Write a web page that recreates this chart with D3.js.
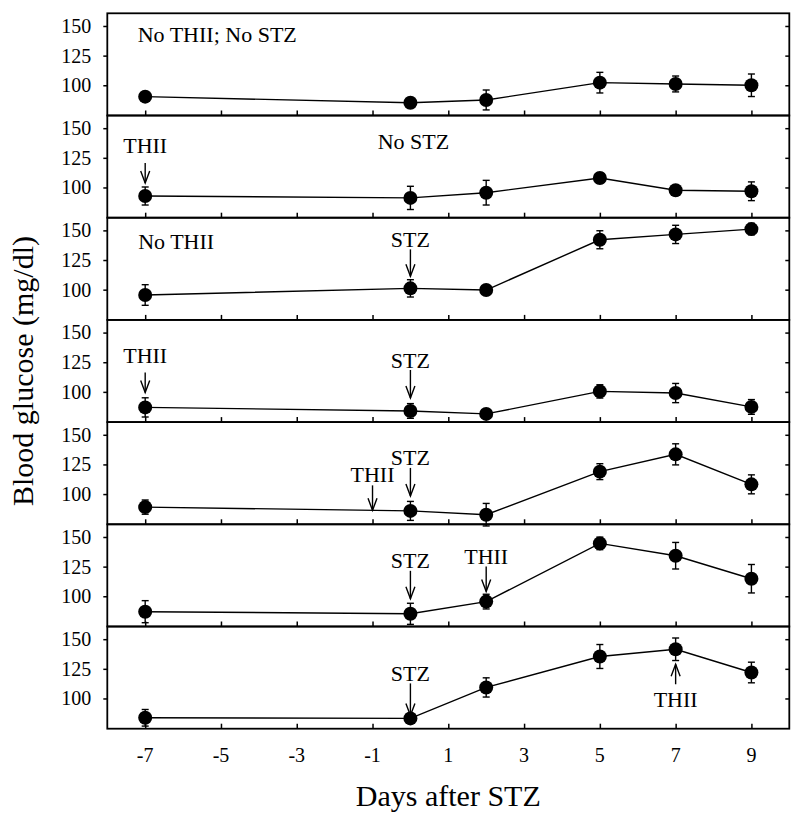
<!DOCTYPE html>
<html>
<head>
<meta charset="utf-8">
<script src="https://cdn.jsdelivr.net/npm/d3@7"></script>
<style>
  html, body { margin: 0; padding: 0; background: #fff; }
  svg { display: block; }
  text { font-family: "Liberation Serif", "Times New Roman", serif; fill: #000; }
</style>
</head>
<body>
<svg id="chart" width="800" height="822"></svg>
<script>
// ---------------- data ----------------
const days = [-7, 0, 2, 5, 7, 9];
const xTickValues = [-7, -5, -3, -1, 1, 3, 5, 7, 9];
const yTickValues = [100, 125, 150];

const means = [
  [90.4, 85.3, 87.6, 102.2, 101.1, 100.0],
  [92.8, 91.2, 95.6, 108.0, 97.6, 96.8],
  [95.5, 101.1, 99.7, 142.1, 146.6, 151.1],
  [86.9, 83.9, 81.4, 100.4, 99.0, 87.3],
  [89.0, 85.8, 82.6, 118.9, 133.5, 108.2],
  [87.0, 85.2, 95.5, 144.6, 134.2, 114.8],
  [83.7, 83.2, 109.3, 135.4, 141.5, 121.9]
];
const errors = [
  [4.0, 2.0, 8.4, 8.7, 6.7, 9.5],
  [7.6, 9.8, 10.4, 4.5, 2.0, 7.9],
  [8.7, 7.3, 2.0, 7.6, 7.7, 4.8],
  [8.1, 6.2, 2.0, 5.6, 8.1, 6.2],
  [6.0, 8.0, 9.5, 6.7, 8.9, 8.0],
  [9.3, 8.9, 6.2, 5.3, 11.2, 12.0],
  [7.0, 2.0, 8.1, 10.1, 9.5, 8.7]
];

const panelLabels = [
  { panel: 0, text: "No THII; No STZ" },
  { panel: 1, text: "No STZ" },
  { panel: 2, text: "No THII" }
];

const annotations = [
  { panel: 1, day: -7, text: "THII", dir: "down" },
  { panel: 2, day: 0,  text: "STZ",  dir: "down" },
  { panel: 3, day: -7, text: "THII", dir: "down" },
  { panel: 3, day: 0,  text: "STZ",  dir: "down" },
  { panel: 4, day: -1, text: "THII", dir: "down" },
  { panel: 4, day: 0,  text: "STZ",  dir: "down" },
  { panel: 5, day: 0,  text: "STZ",  dir: "down" },
  { panel: 5, day: 2,  text: "THII", dir: "down" },
  { panel: 6, day: 0,  text: "STZ",  dir: "down" },
  { panel: 6, day: 7,  text: "THII", dir: "up" }
];

// ---------------- layout (pixels) ----------------
const labelLayout = [
  { anchor: "start",  dx: -7.5, dy: 29 },
  { anchor: "middle", dx: 3,    dy: 33 },
  { anchor: "start",  dx: -7,   dy: 31 }
];
const annoLayout = [
  { gap: 13, len: 20, tgap: 10 },
  { gap: 12, len: 27, tgap: 2 },
  { gap: 15, len: 20, tgap: 9 },
  { gap: 13, len: 28, tgap: 2 },
  { gap: 0,  len: 25, tgap: 3 },
  { gap: 15, len: 28, tgap: 3 },
  { gap: 15, len: 28, tgap: 3 },
  { gap: 10, len: 25, tgap: 3 },
  { gap: 3,  len: 32, tgap: 2 },
  { gap: 15, len: 20, tgap: 23 }
];

const plotLeft = 107.3, plotRight = 789.3, plotTop = 13.3, plotBottom = 728.7;
const nPanels = means.length;
const ph = (plotBottom - plotTop) / nPanels;

const svg = d3.select("#chart");

const x = d3.scaleLinear().domain([-8, 10]).range([plotLeft, plotRight]);
const y = d3.scaleLinear().domain([74.5, 160.7]).range([ph, 0]);

const lineGen = d3.line().x(d => x(d[0])).y(d => y(d[1]));

const fontTick = 20, fontAnno = 22, fontTitle = 30;

for (let p = 0; p < nPanels; p++) {
  const g = svg.append("g").attr("transform", `translate(0,${plotTop + p * ph})`);

  // left axis (outward ticks)
  const ya = g.append("g").attr("transform", `translate(${plotLeft},0)`)
    .call(d3.axisLeft(y).tickValues(yTickValues).tickSize(4).tickPadding(12));
  ya.select(".domain").remove();
  ya.selectAll("line").attr("stroke", "#000").attr("stroke-width", 1.5);
  ya.selectAll("text").attr("font-size", fontTick).attr("font-family", "Liberation Serif").attr("fill", "#000");

  // right axis (inward ticks)
  const yr = g.append("g").attr("transform", `translate(${plotRight},0)`)
    .call(d3.axisLeft(y).tickValues(yTickValues).tickSize(4).tickFormat(""));
  yr.select(".domain").remove();
  yr.selectAll("line").attr("stroke", "#000").attr("stroke-width", 1.5);

  // bottom ticks (inward)
  const xa = g.append("g").attr("transform", `translate(0,${ph})`)
    .call(d3.axisTop(x).tickValues(xTickValues).tickSize(5).tickFormat(""));
  xa.select(".domain").remove();
  xa.selectAll("line").attr("stroke", "#000").attr("stroke-width", 1.5);

  // frame
  g.append("rect").attr("x", plotLeft).attr("y", 0)
    .attr("width", plotRight - plotLeft).attr("height", ph)
    .attr("fill", "none").attr("stroke", "#000").attr("stroke-width", 1.8);

  const pts = days.map((d, i) => [d, means[p][i], errors[p][i]]);

  // connecting line
  g.append("path").datum(pts).attr("d", lineGen)
    .attr("fill", "none").attr("stroke", "#000").attr("stroke-width", 1.4);

  // error bars
  const eb = g.append("g").attr("stroke", "#000").attr("stroke-width", 1.4);
  pts.forEach(d => {
    const cx = x(d[0]), y1 = y(d[1] + d[2]), y2 = y(d[1] - d[2]);
    eb.append("line").attr("x1", cx).attr("x2", cx).attr("y1", y1).attr("y2", y2);
    eb.append("line").attr("x1", cx - 3.5).attr("x2", cx + 3.5).attr("y1", y1).attr("y2", y1);
    eb.append("line").attr("x1", cx - 3.5).attr("x2", cx + 3.5).attr("y1", y2).attr("y2", y2);
  });

  // markers
  g.selectAll("circle.m").data(pts).join("circle")
    .attr("class", "m")
    .attr("cx", d => x(d[0])).attr("cy", d => y(d[1])).attr("r", 7)
    .attr("fill", "#000");

  // panel label
  panelLabels.forEach((pl, i) => {
    if (pl.panel !== p) return;
    const L = labelLayout[i];
    const ax = pl.panel === 1 ? x(0) : x(-7);
    g.append("text").attr("x", ax + L.dx).attr("y", L.dy)
      .attr("text-anchor", L.anchor).attr("font-size", fontAnno).text(pl.text);
  });

  // annotations (arrows)
  annotations.forEach((a, i) => {
    if (a.panel !== p) return;
    const L = annoLayout[i];
    const ax = x(a.day);
    const val = d3.scaleLinear().domain(days).range(means[p])(a.day);
    const py = y(val);
    const ag = g.append("g").attr("stroke", "#000").attr("stroke-width", 1.4).attr("fill", "none");
    if (a.dir === "down") {
      const tip = py - L.gap, start = tip - L.len;
      ag.append("line").attr("x1", ax).attr("x2", ax).attr("y1", start).attr("y2", tip);
      ag.append("path").attr("d", `M${ax - 4.5},${tip - 12}L${ax},${tip}L${ax + 4.5},${tip - 12}`);
      g.append("text").attr("x", ax).attr("y", start - L.tgap)
        .attr("text-anchor", "middle").attr("font-size", fontAnno).text(a.text);
    } else {
      const tip = py + L.gap, end = tip + L.len;
      ag.append("line").attr("x1", ax).attr("x2", ax).attr("y1", tip).attr("y2", end);
      ag.append("path").attr("d", `M${ax - 4.5},${tip + 12}L${ax},${tip}L${ax + 4.5},${tip + 12}`);
      g.append("text").attr("x", ax).attr("y", end + L.tgap)
        .attr("text-anchor", "middle").attr("font-size", fontAnno).text(a.text);
    }
  });
}

// x tick labels
svg.append("g").selectAll("text").data(xTickValues).join("text")
  .attr("x", d => x(d)).attr("y", 761.5)
  .attr("text-anchor", "middle").attr("font-size", fontTick)
  .text(d => String(d));

// axis titles
svg.append("text").attr("x", (plotLeft + plotRight) / 2).attr("y", 806)
  .attr("text-anchor", "middle").attr("font-size", fontTitle).text("Days after STZ");
svg.append("text")
  .attr("transform", `translate(33,${(plotTop + plotBottom) / 2}) rotate(-90)`)
  .attr("text-anchor", "middle").attr("font-size", fontTitle).text("Blood glucose (mg/dl)");
</script>
</body>
</html>
